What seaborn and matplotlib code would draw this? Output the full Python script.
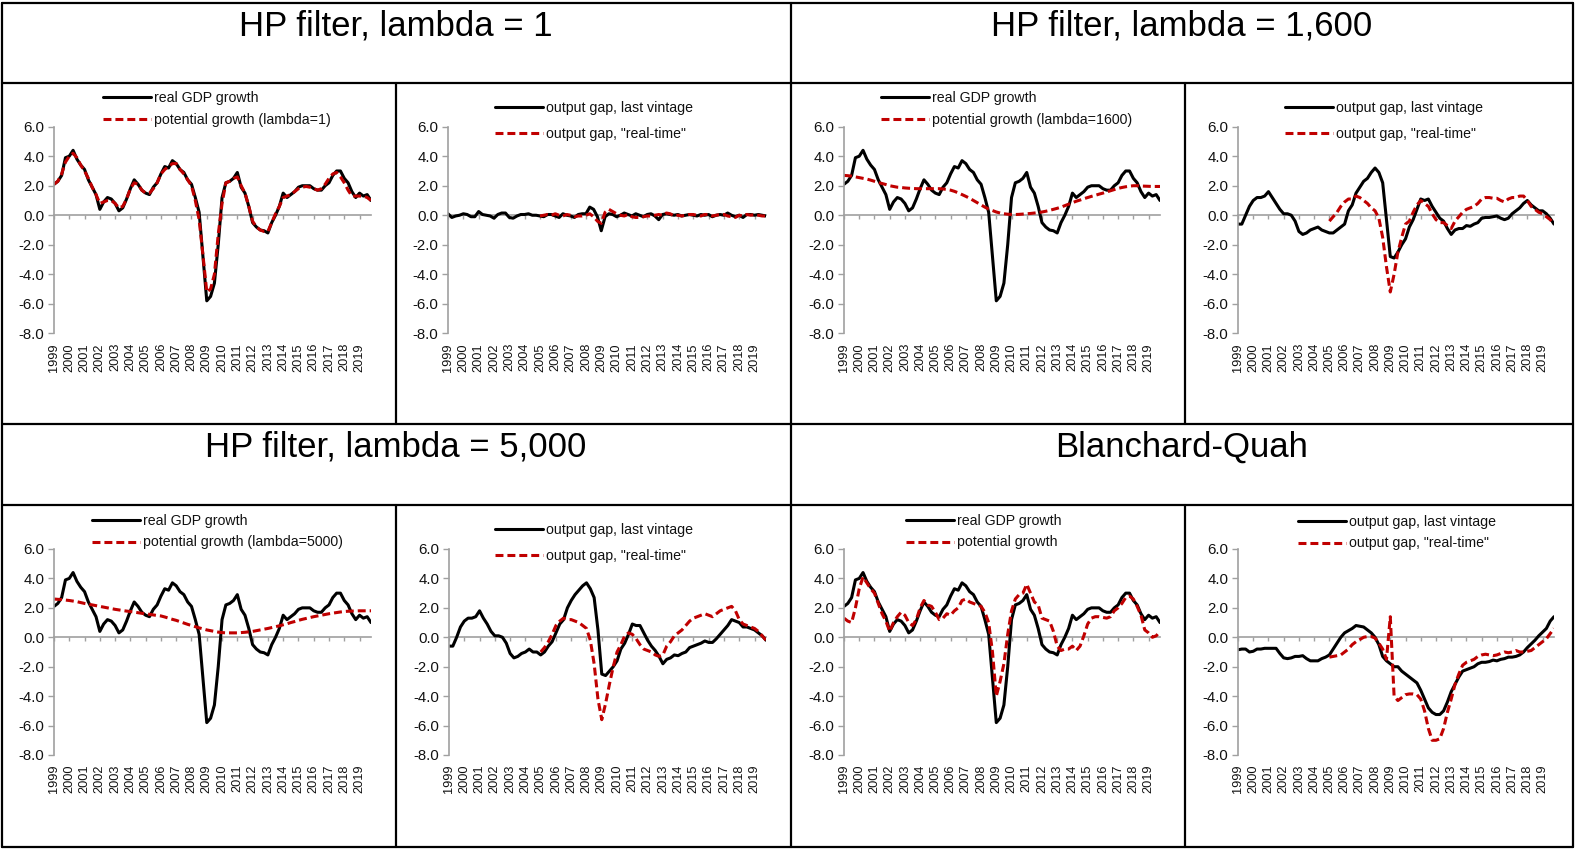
import numpy as np
import pandas as pd
import matplotlib
matplotlib.use("Agg")
import matplotlib.pyplot as plt
from matplotlib.lines import Line2D
from matplotlib.ticker import FormatStrFormatter
import seaborn as sns

# quarterly data, 1999Q1 .. 2019Q4
quarters = np.arange(84)
year_labels = [str(y) for y in range(1999, 2020)]
rt_start = 24  # "real-time" estimates start in 2005Q1

gdp_growth = [2.1, 2.3, 2.7, 3.9, 4.0, 4.4, 3.8, 3.4,
              3.1, 2.4, 1.9, 1.4, 0.4, 0.9, 1.2, 1.1,
              0.8, 0.3, 0.5, 1.1, 1.8, 2.4, 2.1, 1.7,
              1.5, 1.4, 1.9, 2.2, 2.8, 3.3, 3.2, 3.7,
              3.5, 3.1, 2.9, 2.4, 2.1, 1.2, 0.2, -2.8,
              -5.8, -5.5, -4.6, -2.0, 1.2, 2.2, 2.3, 2.5,
              2.9, 1.9, 1.5, 0.6, -0.5, -0.8, -1.0, -1.05,
              -1.2, -0.5, 0.0, 0.6, 1.5, 1.2, 1.4, 1.6,
              1.9, 2.0, 2.0, 2.0, 1.8, 1.7, 1.7, 2.0,
              2.2, 2.7, 3.0, 3.0, 2.5, 2.2, 1.6, 1.2,
              1.5, 1.3, 1.4, 1.0]

pot_hp1 = [2.1, 2.3, 2.8, 3.6, 4.0, 4.2, 3.9, 3.4,
           3.0, 2.5, 1.9, 1.4, 0.8, 0.9, 1.0, 1.0,
           0.8, 0.5, 0.6, 1.1, 1.8, 2.2, 2.1, 1.7,
           1.5, 1.5, 1.8, 2.2, 2.8, 3.1, 3.3, 3.5,
           3.5, 3.1, 2.8, 2.4, 2.0, 1.0, -0.3, -2.7,
           -5.2, -5.0, -4.0, -1.3, 0.8, 2.2, 2.3, 2.5,
           2.6, 2.0, 1.5, 0.6, -0.4, -0.8, -1.0, -1.1,
           -1.1, -0.5, 0.1, 0.6, 1.2, 1.3, 1.4, 1.6,
           1.8, 1.9, 1.95, 1.9, 1.8, 1.7, 1.8, 2.1,
           2.5, 2.8, 2.9, 2.6, 2.2, 1.7, 1.3, 1.3,
           1.3, 1.3, 1.2, 1.0]

pot_hp1600 = [2.7, 2.68, 2.65, 2.6, 2.55, 2.5, 2.45, 2.38,
              2.3, 2.22, 2.15, 2.08, 2.0, 1.95, 1.9, 1.88,
              1.85, 1.83, 1.82, 1.8, 1.8, 1.8, 1.8, 1.8,
              1.8, 1.8, 1.78, 1.75, 1.7, 1.62, 1.52, 1.4,
              1.28, 1.15, 1.0, 0.85, 0.7, 0.55, 0.42, 0.32,
              0.22, 0.15, 0.1, 0.07, 0.05, 0.05, 0.06, 0.08,
              0.1, 0.12, 0.15, 0.18, 0.22, 0.27, 0.33, 0.4,
              0.47, 0.55, 0.65, 0.75, 0.85, 0.95, 1.03, 1.12,
              1.2, 1.28, 1.35, 1.43, 1.5, 1.58, 1.66, 1.74,
              1.82, 1.88, 1.93, 1.97, 2.0, 2.0, 1.98, 1.97,
              1.96, 1.95, 1.95, 1.95]

pot_hp5000 = [2.6, 2.58, 2.56, 2.53, 2.5, 2.46, 2.42, 2.36,
              2.3, 2.25, 2.2, 2.15, 2.1, 2.05, 2.0, 1.95,
              1.9, 1.86, 1.82, 1.78, 1.75, 1.71, 1.67, 1.63,
              1.6, 1.56, 1.52, 1.48, 1.45, 1.38, 1.3, 1.22,
              1.15, 1.06, 0.97, 0.88, 0.8, 0.72, 0.64, 0.57,
              0.5, 0.45, 0.4, 0.35, 0.32, 0.3, 0.3, 0.3,
              0.3, 0.32, 0.34, 0.37, 0.4, 0.45, 0.5, 0.55,
              0.6, 0.66, 0.72, 0.78, 0.85, 0.92, 1.0, 1.07,
              1.15, 1.22, 1.28, 1.34, 1.4, 1.45, 1.5, 1.55,
              1.6, 1.64, 1.68, 1.72, 1.75, 1.77, 1.78, 1.79,
              1.8, 1.8, 1.8, 1.8]

pot_bq = [1.3, 1.1, 1.0, 2.0, 3.3, 4.1, 3.7, 3.3,
          3.0, 2.3, 1.6, 1.1, 0.4, 1.0, 1.4, 1.7,
          1.5, 1.0, 0.8, 1.2, 2.0, 2.5, 2.2, 2.1,
          1.7, 1.2, 1.3, 1.6, 1.5, 1.8, 2.0, 2.5,
          2.6, 2.4, 2.3, 2.2, 2.1, 1.7, 1.0, -1.0,
          -4.0, -3.0, -1.8, 0.2, 1.8, 2.6, 2.9, 3.0,
          3.6, 3.0, 2.4, 2.2, 1.3, 1.2, 1.1, 0.4,
          -0.6, -0.9, -0.8, -0.8, -0.6, -0.9, -0.6, 0.1,
          0.9, 1.3, 1.4, 1.4, 1.35, 1.3, 1.4, 1.8,
          2.0, 2.3, 2.7, 2.8, 2.6, 2.1, 1.5, 0.5,
          0.3, 0.0, 0.1, 0.4]

gap_hp1_last = [0.1, -0.15, -0.05, 0.0, 0.1, 0.05, -0.1, -0.1,
                0.25, 0.05, 0.0, -0.05, -0.2, 0.05, 0.15, 0.15,
                -0.15, -0.2, -0.05, 0.05, 0.05, 0.1, 0.0, 0.0,
                -0.05, -0.1, 0.05, 0.05, -0.05, -0.15, 0.1, 0.0,
                -0.05, -0.15, 0.05, 0.1, 0.1, 0.55, 0.4, -0.1,
                -1.05, -0.1, 0.1, 0.05, -0.1, 0.0, 0.15, 0.05,
                -0.05, 0.1, 0.0, -0.1, 0.05, 0.1, -0.05, -0.3,
                0.05, 0.1, 0.05, 0.0, 0.05, -0.05, 0.0, 0.05,
                0.0, -0.05, 0.05, 0.0, 0.05, -0.1, 0.0, 0.05,
                0.0, 0.15, 0.0, -0.1, 0.0, -0.15, 0.05, 0.05,
                0.0, 0.05, 0.0, -0.05]
gap_hp1_rt = [-0.05, 0.0, 0.05, 0.0, 0.1, 0.0, -0.05, 0.05,
              0.0, -0.1, -0.05, -0.05, 0.0, 0.1, -0.1, -0.4,
              -0.55, 0.2, 0.4, 0.25, 0.1, 0.0, -0.05, 0.05,
              -0.1, -0.15, -0.15, -0.1, -0.05, -0.05, 0.0, 0.05,
              0.0, 0.15, 0.1, -0.05, 0.0, -0.05, 0.0, 0.05,
              0.05, 0.0, -0.05, 0.05, 0.05, -0.05, 0.0, 0.05,
              0.05, -0.05, -0.1, -0.15, 0.0, -0.05, 0.05, 0.0,
              0.05, 0.0, -0.05, -0.05]

gap_hp1600_last = [-0.6, -0.6, 0.0, 0.6, 1.0, 1.2, 1.2, 1.3,
                   1.6, 1.2, 0.8, 0.4, 0.1, 0.1, 0.0, -0.4,
                   -1.1, -1.3, -1.2, -1.0, -0.9, -0.8, -1.0, -1.1,
                   -1.2, -1.2, -1.0, -0.8, -0.6, 0.3, 0.7, 1.5,
                   1.9, 2.3, 2.5, 2.9, 3.2, 2.9, 2.2, -0.3,
                   -2.8, -2.9, -2.5, -2.0, -1.6, -0.8, -0.3, 0.4,
                   1.1, 1.0, 1.1, 0.6, 0.2, -0.2, -0.4, -0.9,
                   -1.3, -1.0, -0.9, -0.9, -0.7, -0.75, -0.6, -0.5,
                   -0.2, -0.15, -0.15, -0.1, -0.05, -0.2, -0.3, -0.2,
                   0.1, 0.3, 0.5, 0.8, 1.0, 0.7, 0.5, 0.3,
                   0.3, 0.1, -0.2, -0.6]
gap_hp1600_rt = [-0.4, -0.1, 0.2, 0.6, 0.9, 1.1, 1.1, 1.3,
                 1.2, 1.0, 0.8, 0.5, 0.3, -0.2, -1.5, -3.5,
                 -5.2, -4.0, -2.5, -1.5, -0.6, -0.4, 0.2, 0.7,
                 1.0, 0.8, 0.6, 0.1, -0.3, -0.5, -0.5, -0.7,
                 -0.9, -0.4, -0.1, 0.2, 0.4, 0.5, 0.6, 0.8,
                 1.1, 1.2, 1.2, 1.15, 1.15, 1.0, 0.9, 1.1,
                 1.2, 1.2, 1.3, 1.3, 1.0, 0.6, 0.4, 0.2,
                 0.1, -0.1, -0.3, -0.6]

gap_hp5000_last = [-0.6, -0.6, 0.0, 0.7, 1.1, 1.3, 1.3, 1.4,
                   1.8, 1.3, 0.9, 0.4, 0.1, 0.1, 0.0, -0.4,
                   -1.1, -1.4, -1.3, -1.1, -1.0, -0.8, -1.0, -1.0,
                   -1.2, -1.0, -0.6, -0.3, 0.3, 0.9, 1.2, 2.0,
                   2.5, 2.9, 3.2, 3.5, 3.7, 3.3, 2.7, 0.5,
                   -2.5, -2.6, -2.3, -2.0, -1.6, -0.8, -0.4, 0.2,
                   0.9, 0.8, 0.8, 0.3, -0.2, -0.6, -0.9, -1.3,
                   -1.8, -1.5, -1.4, -1.2, -1.25, -1.1, -1.0, -0.7,
                   -0.6, -0.5, -0.4, -0.25, -0.35, -0.35, -0.1, 0.2,
                   0.5, 0.8, 1.2, 1.1, 1.0, 0.7, 0.7, 0.6,
                   0.5, 0.3, 0.1, -0.2]
gap_hp5000_rt = [-1.0, -0.7, -0.3, 0.2, 0.8, 1.1, 1.3, 1.2,
                 1.2, 1.1, 1.0, 0.8, 0.6, -0.2, -1.8, -4.2,
                 -5.6, -4.5, -3.2, -2.0, -1.0, -0.5, 0.1, 0.3,
                 0.2, -0.1, -0.5, -0.8, -0.9, -1.0, -1.2, -1.3,
                 -1.2, -0.6, -0.3, 0.1, 0.3, 0.5, 0.8, 1.1,
                 1.3, 1.4, 1.5, 1.6, 1.5, 1.4, 1.6, 1.8,
                 1.9, 2.0, 2.1, 1.8, 1.2, 0.9, 0.8, 0.7,
                 0.6, 0.4, 0.1, -0.2]

gap_bq_last = [-0.85, -0.8, -0.8, -1.0, -0.95, -0.8, -0.8, -0.75,
               -0.75, -0.75, -0.75, -1.1, -1.4, -1.45, -1.4, -1.3,
               -1.3, -1.25, -1.45, -1.6, -1.6, -1.6, -1.45, -1.35,
               -1.2, -0.8, -0.4, 0.0, 0.3, 0.45, 0.6, 0.8,
               0.75, 0.7, 0.5, 0.3, 0.0, -0.5, -1.3, -1.6,
               -1.8, -2.0, -2.0, -2.3, -2.5, -2.7, -2.9, -3.1,
               -3.6, -4.2, -4.8, -5.1, -5.25, -5.25, -5.0, -4.4,
               -3.7, -3.2, -2.7, -2.3, -2.2, -2.1, -2.0, -1.8,
               -1.7, -1.7, -1.65, -1.55, -1.6, -1.5, -1.45, -1.35,
               -1.35, -1.3, -1.2, -1.0, -0.7, -0.45, -0.2, 0.1,
               0.35, 0.6, 1.1, 1.4]
gap_bq_rt = [-1.35, -1.3, -1.25, -1.2, -1.0, -0.8, -0.5, -0.3,
             -0.15, 0.0, 0.05, 0.05, -0.05, -0.4, -0.8, -1.5,
             1.4, -4.0, -4.3, -4.1, -3.9, -3.85, -3.85, -3.9,
             -4.2, -5.0, -6.2, -7.0, -7.0, -6.9, -6.2, -5.1,
             -4.2, -3.2, -2.5, -1.9, -1.7, -1.6, -1.5, -1.3,
             -1.2, -1.15, -1.2, -1.25, -1.2, -1.1, -1.0, -1.05,
             -1.0, -0.9, -1.0, -1.0, -0.95, -0.9, -0.7, -0.5,
             -0.3, -0.1, 0.25, 0.6]

titles = ["HP filter, lambda = 1", "HP filter, lambda = 1,600",
          "HP filter, lambda = 5,000", "Blanchard-Quah"]
lbl_gdp = "real GDP growth"
lbl_last = "output gap, last vintage"
lbl_rt = 'output gap, "real-time"'

sns.set_theme(style="white")
plt.rcParams["font.family"] = ["Liberation Sans", "DejaVu Sans"]
plt.rcParams["axes.unicode_minus"] = False
plt.rcParams["text.color"] = "black"

W, H = 1575, 850
fig = plt.figure(figsize=(W / 100, H / 100), dpi=100)

RED = "#c00000"
GREY = "#a0a0a0"
TXT = "#111111"


def fx(px):
    return px / W


def fy(py):
    return 1 - py / H


def draw_panel(ax, black, red, red_start, lab_black, lab_red, leg_xy, leg_gap):
    df_b = pd.DataFrame({"q": quarters[:len(black)], "v": black})
    df_r = pd.DataFrame({"q": quarters[red_start:red_start + len(red)], "v": red})
    sns.lineplot(data=df_b, x="q", y="v", ax=ax, color="black", linewidth=2.2,
                 label=lab_black)
    sns.lineplot(data=df_r, x="q", y="v", ax=ax, color=RED, linewidth=2.2,
                 linestyle=(0, (2.6, 1.3)), label=lab_red)
    ax.set_xlim(0, 83)
    ax.set_ylim(-8, 6)
    ax.set_xlabel("")
    ax.set_ylabel("")
    ax.set_yticks(np.arange(-8, 7, 2))
    ax.yaxis.set_major_formatter(FormatStrFormatter("%.1f"))
    ax.set_xticks(quarters[::4])
    ax.set_xticklabels(year_labels, rotation=90)
    ax.tick_params(axis="x", length=0, pad=7, labelsize=9.2, labelcolor=TXT)
    ax.tick_params(axis="y", length=4, width=1, color=GREY, direction="out",
                   pad=3, labelsize=10.8, labelcolor=TXT, left=True)
    for s in ["top", "right", "bottom"]:
        ax.spines[s].set_visible(False)
    ax.spines["left"].set_color(GREY)
    ax.spines["left"].set_linewidth(1.2)
    ax.grid(False)
    # horizontal axis crossing at zero
    zero = ax.secondary_xaxis(8 / 14)
    zero.set_xticks(quarters[::4])
    zero.set_xticklabels([])
    zero.tick_params(length=3, width=1, color=GREY, direction="in")
    for s in zero.spines.values():
        s.set_color(GREY)
        s.set_linewidth(1.2)
    leg = ax.legend(loc="center left", bbox_to_anchor=(fx(leg_xy[0]), fy(leg_xy[1])),
                    bbox_transform=fig.transFigure, frameon=False, fontsize=10.2,
                    handlelength=3.4, handletextpad=0.2, borderpad=0,
                    borderaxespad=0, labelspacing=leg_gap)
    for t in leg.get_texts():
        t.set_color(TXT)


top_y = (126.7, 333.3)
bot_y = (549, 755)
panels = [
    ((54, 371), top_y, gdp_growth, pot_hp1, 0, lbl_gdp, "potential growth (lambda=1)", (103, 109), 0.6),
    ((448, 766), top_y, gap_hp1_last, gap_hp1_rt, rt_start, lbl_last, lbl_rt, (495, 121), 0.88),
    ((844, 1160), top_y, gdp_growth, pot_hp1600, 0, lbl_gdp, "potential growth (lambda=1600)", (881, 109), 0.6),
    ((1238, 1554), top_y, gap_hp1600_last, gap_hp1600_rt, rt_start, lbl_last, lbl_rt, (1285, 121), 0.88),
    ((54, 371), bot_y, gdp_growth, pot_hp5000, 0, lbl_gdp, "potential growth (lambda=5000)", (92, 531.5), 0.56),
    ((449, 766), bot_y, gap_hp5000_last, gap_hp5000_rt, rt_start, lbl_last, lbl_rt, (495, 543), 0.88),
    ((844, 1160), bot_y, gdp_growth, pot_bq, 0, lbl_gdp, "potential growth", (906, 531.5), 0.56),
    ((1238, 1554), bot_y, gap_bq_last, gap_bq_rt, rt_start, lbl_last, lbl_rt, (1298, 532.5), 0.56),
]

for (x0, x1), (y0, y1), blk, rd, rs, lb, lr, lxy, lg in panels:
    ax = fig.add_axes([fx(x0), fy(y1), (x1 - x0) / W, (y1 - y0) / H])
    draw_panel(ax, blk, rd, rs, lb, lr, lxy, lg)


# table borders
def hline(py, xa=2, xb=1573):
    fig.add_artist(Line2D([fx(xa), fx(xb)], [fy(py), fy(py)], color="black", lw=1.6))


def vline(px, ya, yb):
    fig.add_artist(Line2D([fx(px), fx(px)], [fy(ya), fy(yb)], color="black", lw=1.6))


for py in (3, 83, 424, 505, 847):
    hline(py)
vline(2, 3, 847)
vline(1573, 3, 847)
vline(791, 3, 847)
for px in (396, 1185):
    vline(px, 83, 424)
    vline(px, 505, 847)

# section titles
for (px, py), title in zip([(396, 35), (1182, 35), (396, 457), (1182, 457)], titles):
    fig.text(fx(px), fy(py), title, ha="center", va="baseline", fontsize=25,
             color="black")

fig.savefig("out.png", dpi=100)
